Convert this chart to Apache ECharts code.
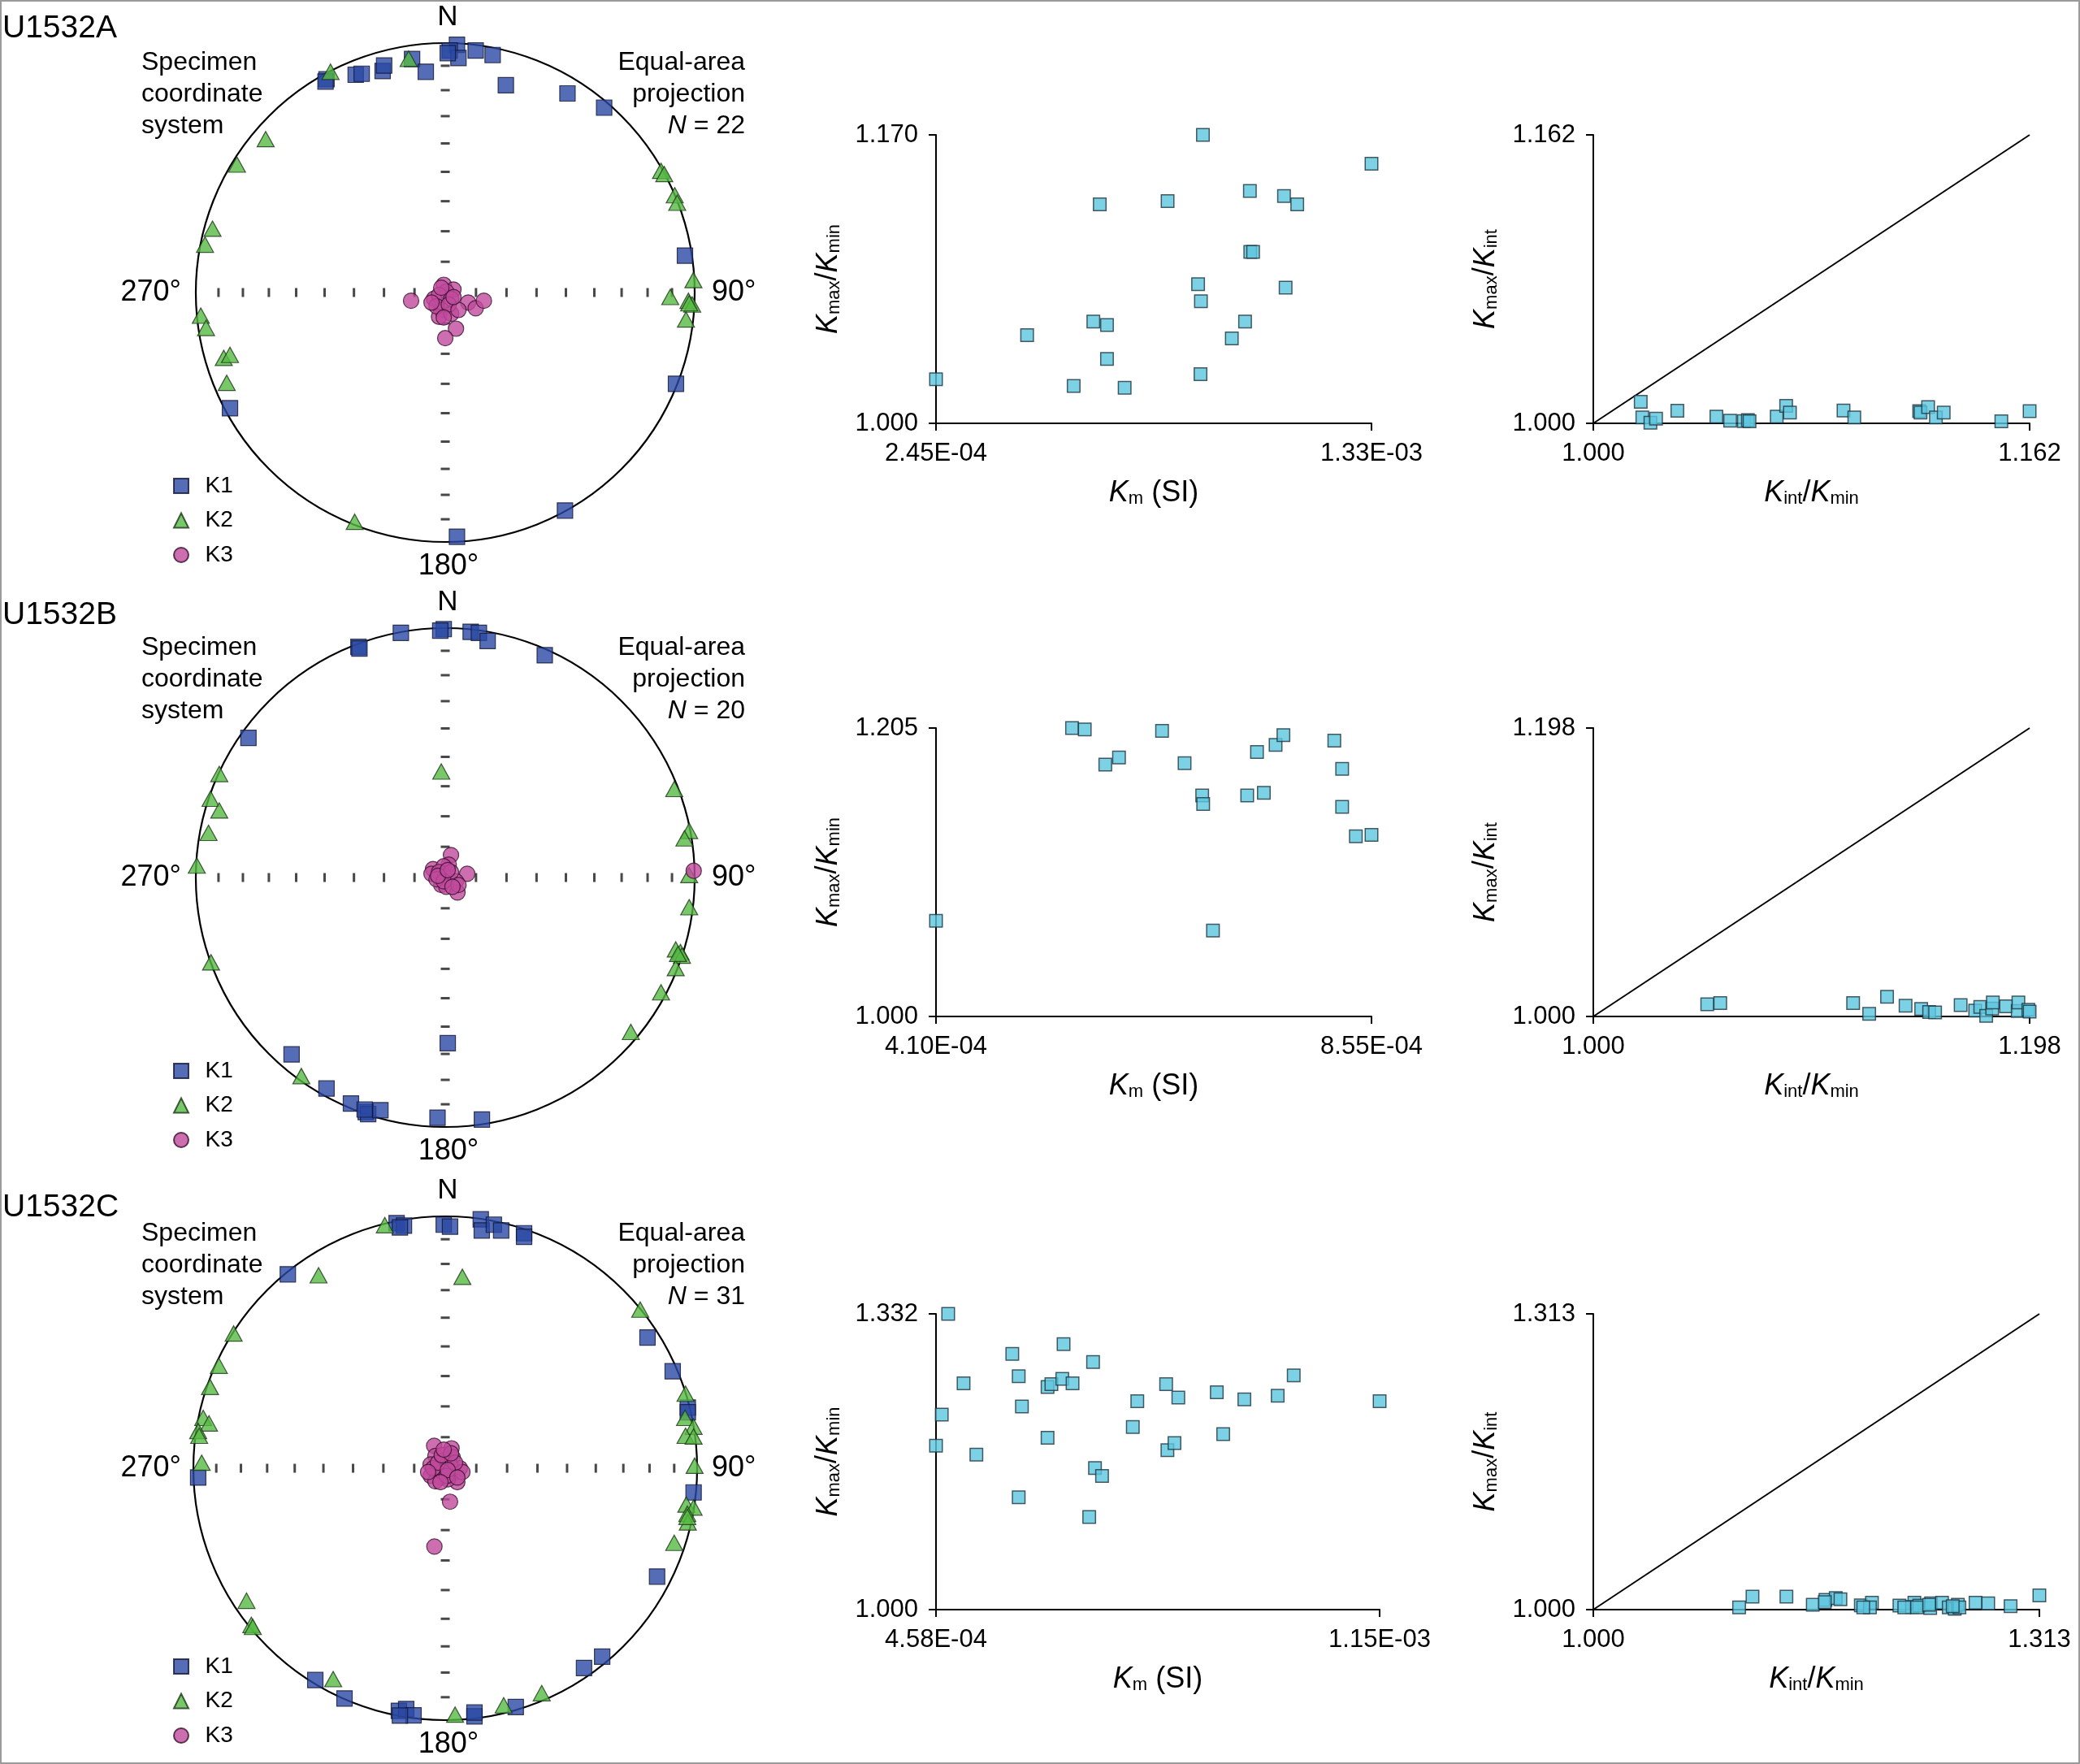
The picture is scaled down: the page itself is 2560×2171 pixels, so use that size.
<!DOCTYPE html>
<html>
<head>
<meta charset="utf-8">
<script src="https://cdn.jsdelivr.net/npm/echarts@6.0.0/dist/echarts.min.js"></script>
<style>
  html, body { margin: 0; padding: 0; background: #fff; }
  #wrap { position: relative; width: 2560px; height: 2171px; }
  #chart { position: absolute; left: 0; top: 0; width: 2560px; height: 2171px; }
  #frame { position: absolute; left: 0; top: 0; width: 2560px; height: 2171px; box-sizing: border-box; border: 2px solid #9a9a9a; pointer-events: none; }
</style>
</head>
<body>
<div id="wrap"><div id="chart"></div><div id="frame"></div></div>
<script>
// ---------- Stereonet data: equal-area projected positions [east, north], unit circle ----------
const k1A = [[0.047,0.993],[0.018,0.970],[0.053,0.940],[0.122,0.970],[0.190,0.952],[0.243,0.831],[0.490,0.798],[0.637,0.741],[0.961,0.148],[0.925,-0.366],[0.480,-0.874],[0.047,-0.979],[-0.863,-0.464],[-0.476,0.855],[-0.359,0.873],[-0.335,0.877],[-0.251,0.888],[-0.245,0.910],[-0.133,0.936],[-0.078,0.885],[0.010,0.960],[-0.480,0.846]];
const k2A = [[-0.147,0.937],[-0.460,0.885],[-0.720,0.615],[-0.835,0.513],[-0.933,0.256],[-0.963,0.192],[-0.980,-0.093],[-0.959,-0.142],[-0.888,-0.262],[-0.863,-0.250],[-0.876,-0.362],[-0.363,-0.919],[0.865,0.488],[0.878,0.475],[0.920,0.390],[0.930,0.360],[0.995,0.050],[0.902,-0.018],[0.975,-0.033],[0.990,-0.048],[0.965,-0.108],[0.978,-0.043]];
const k3A = [[-0.006,0.031],[0.033,0.012],[0.004,0.004],[-0.137,-0.033],[-0.045,-0.025],[-0.025,-0.010],[0.024,-0.025],[0.092,-0.040],[0.122,-0.063],[0.155,-0.033],[-0.016,-0.070],[-0.025,-0.097],[0.024,-0.085],[0.043,-0.145],[0.000,-0.183],[-0.035,-0.055],[0.014,-0.048],[0.053,-0.070],[-0.055,-0.040],[-0.006,-0.100],[0.033,-0.018],[-0.016,0.019]];

const k1B = [[-0.006,0.996],[-0.178,0.981],[0.102,0.985],[0.135,0.981],[0.170,0.948],[0.399,0.891],[-0.348,0.925],[-0.344,0.918],[-0.789,0.560],[0.010,-0.664],[-0.616,-0.709],[-0.476,-0.846],[-0.378,-0.906],[-0.319,-0.940],[-0.309,-0.948],[-0.260,-0.933],[-0.031,-0.963],[0.147,-0.970],[-0.323,-0.930],[-0.020,0.990]];
const k2B = [[-0.016,0.425],[-0.906,0.415],[-0.941,0.316],[-0.906,0.269],[-0.949,0.179],[-0.996,0.048],[-0.939,-0.340],[-0.577,-0.796],[0.918,0.355],[0.978,0.187],[0.959,0.157],[0.978,0.010],[0.978,-0.119],[0.924,-0.288],[0.943,-0.299],[0.949,-0.313],[0.924,-0.363],[0.865,-0.460],[0.744,-0.619],[0.933,-0.306]];
const k3B = [[0.023,0.090],[0.014,0.052],[-0.049,0.034],[-0.006,0.045],[-0.055,0.015],[-0.025,0.022],[0.088,0.015],[-0.002,0.004],[0.043,-0.015],[-0.016,-0.030],[0.004,-0.037],[0.049,-0.060],[0.996,0.027],[-0.035,-0.007],[0.023,0.022],[0.053,-0.030],[-0.006,-0.015],[0.029,-0.037],[-0.029,0.007],[0.010,0.030]];

const k1C = [[-0.193,0.973],[-0.164,0.963],[-0.180,0.956],[-0.006,0.967],[0.019,0.959],[0.141,0.988],[0.145,0.944],[0.193,0.967],[0.222,0.944],[0.313,0.933],[0.313,0.919],[-0.652,0.763],[-0.625,0.770],[0.803,0.519],[0.903,0.385],[0.963,0.241],[0.963,0.222],[-0.981,-0.037],[0.986,-0.096],[0.841,-0.430],[0.623,-0.748],[0.551,-0.793],[0.280,-0.948],[0.116,-0.985],[-0.516,-0.841],[-0.400,-0.914],[-0.184,-0.963],[-0.155,-0.956],[-0.126,-0.981],[-0.180,-0.982],[0.116,-0.970]];
const k2C = [[-0.240,0.965],[-0.503,0.766],[0.068,0.760],[-0.840,0.535],[-0.899,0.407],[-0.934,0.323],[-0.961,0.200],[-0.938,0.178],[-0.981,0.148],[-0.977,0.129],[-0.967,0.022],[-0.789,-0.526],[-0.770,-0.622],[-0.764,-0.630],[-0.445,-0.837],[0.039,-0.978],[0.232,-0.941],[0.383,-0.893],[0.774,0.630],[0.954,0.296],[0.952,0.200],[0.986,0.165],[0.954,0.129],[0.986,0.126],[0.990,0.010],[0.957,-0.144],[0.986,-0.156],[0.961,-0.181],[0.963,-0.215],[0.909,-0.296],[0.961,-0.193]];
const k3C = [[-0.044,0.089],[0.025,0.079],[-0.039,0.049],[0.029,0.044],[-0.010,0.030],[-0.058,0.015],[0.058,0.000],[0.000,0.007],[-0.033,-0.007],[0.029,-0.022],[-0.058,-0.030],[-0.019,-0.037],[0.048,-0.055],[0.010,-0.044],[-0.039,-0.052],[0.019,0.015],[-0.010,-0.015],[-0.048,0.000],[0.068,-0.015],[0.039,0.022],[-0.029,0.022],[0.006,-0.030],[0.019,-0.133],[-0.043,-0.311],[-0.014,0.052],[0.010,-0.007],[-0.068,-0.015],[0.048,-0.037],[-0.019,-0.055],[0.023,0.059],[-0.006,0.074]];

// Inclination ticks along the N-S and E-W diameters (degrees)
const tickInclinations = [10, 20, 30, 40, 50, 60, 70, 80];
const tickAzimuths = [0, 90, 180, 270];

// ---------- Km vs Kmax/Kmin ----------
const kmA = [2.45e-4,4.72e-4,5.88e-4,6.37e-4,6.71e-4,6.71e-4,6.53e-4,7.15e-4,8.22e-4,9.10e-4,8.98e-4,9.05e-4,9.04e-4,9.82e-4,1.015e-3,1.027e-3,1.028e-3,1.035e-3,1.112e-3,1.145e-3,1.116e-3,1.33e-3];
const kmaxKminA = [1.026,1.052,1.022,1.060,1.058,1.038,1.129,1.021,1.131,1.170,1.082,1.072,1.029,1.050,1.060,1.137,1.101,1.101,1.134,1.129,1.080,1.153];
const kmB = [4.10e-4,5.49e-4,5.62e-4,5.83e-4,5.97e-4,6.41e-4,6.64e-4,6.82e-4,6.83e-4,6.93e-4,7.28e-4,7.45e-4,7.38e-4,7.57e-4,7.65e-4,8.17e-4,8.25e-4,8.25e-4,8.39e-4,8.55e-4];
const kmaxKminB = [1.068,1.205,1.204,1.179,1.184,1.203,1.180,1.157,1.151,1.061,1.157,1.159,1.188,1.193,1.200,1.196,1.176,1.149,1.128,1.129];
const kmC = [4.77e-4,4.67e-4,4.58e-4,5.01e-4,5.21e-4,5.77e-4,5.87e-4,5.92e-4,5.87e-4,6.32e-4,6.38e-4,6.32e-4,6.55e-4,6.57e-4,6.71e-4,7.03e-4,7.06e-4,7.17e-4,6.97e-4,7.65e-4,7.72e-4,8.17e-4,8.36e-4,8.19e-4,8.30e-4,8.96e-4,9.06e-4,9.39e-4,9.91e-4,1.016e-3,1.15e-3];
const kmaxKminC = [1.332,1.219,1.184,1.254,1.174,1.287,1.262,1.228,1.126,1.250,1.253,1.193,1.259,1.298,1.254,1.278,1.159,1.150,1.104,1.205,1.234,1.253,1.238,1.179,1.187,1.244,1.197,1.236,1.240,1.263,1.234];

// ---------- Kint/Kmin vs Kmax/Kint ----------
const kintKminA = [1.0176,1.0182,1.0212,1.0233,1.0312,1.0457,1.0508,1.0559,1.0574,1.0681,1.0716,1.0730,1.0929,1.0969,1.1210,1.1215,1.1243,1.1272,1.1301,1.1515,1.1620,1.0580];
const kmaxKintA = [1.0121,1.0033,1.0003,1.0026,1.0071,1.0038,1.0015,1.0012,1.0018,1.0038,1.0098,1.0060,1.0072,1.0033,1.0068,1.0060,1.0091,1.0033,1.0060,1.0011,1.0068,1.0011];
const kintKminB = [1.0517,1.0576,1.1179,1.1252,1.1333,1.1417,1.1488,1.1524,1.1551,1.1667,1.1733,1.1756,1.1783,1.1810,1.1813,1.1873,1.1926,1.1929,1.1974,1.1980];
const kmaxKintB = [1.0083,1.0092,1.0092,1.0018,1.0135,1.0074,1.0052,1.0031,1.0028,1.0078,1.0041,1.0065,1.0004,1.0055,1.0096,1.0070,1.0037,1.0096,1.0046,1.0033];
const kintKminC = [1.1023,1.1117,1.1355,1.1540,1.1629,1.1701,1.1734,1.1877,1.1955,1.1941,1.2148,1.2253,1.2237,1.2287,1.2364,1.2370,1.2447,1.2494,1.2536,1.2558,1.2569,1.2682,1.2771,1.2928,1.3130,1.2271,1.2356,1.2522,1.2182,1.1624,1.1894];
const kmaxKintC = [1.0023,1.0137,1.0137,1.0051,1.0103,1.0123,1.0109,1.0046,1.0074,1.0023,1.0043,1.0074,1.0029,1.0043,1.0017,1.0066,1.0074,1.0023,1.0009,1.0051,1.0023,1.0074,1.0066,1.0037,1.0151,1.0023,1.0051,1.0037,1.0023,1.0080,1.0023];

// ---------- Axis tick values ----------
const kmTicks = [[2.45e-4, 1.33e-3], [4.10e-4, 8.55e-4], [4.58e-4, 1.15e-3]];
const kmaxKminTicks = [[1.000, 1.170], [1.000, 1.205], [1.000, 1.332]];
const ratioTicks = [[1.000, 1.162], [1.000, 1.198], [1.000, 1.313]];

const holeNames = ['U1532A', 'U1532B', 'U1532C'];
const holeN = [22, 20, 31];

// ---------- Layout ----------
const FONT = "'Liberation Sans', Arial, Helvetica, sans-serif";
const C_K1 = '#2a49a4', C_K2 = '#56ba44', C_K3 = '#c04a9c', C_SQ = '#5cc6de';
const nets = [
  { cy: 360,  r: 307, textY: 77,   idY: 35,   legendTop: 579 },
  { cy: 1080, r: 307, textY: 797,  idY: 757,  legendTop: 1299 },
  { cy: 1807, r: 310, textY: 1518, idY: 1486, legendTop: 2032 }
];
const CX = 548;
const midGrids = [
  { left: 1152, top: 166, width: 536, height: 355 },
  { left: 1152, top: 896, width: 536, height: 355 },
  { left: 1152, top: 1617, width: 546, height: 364 }
];
const rightGrids = [
  { left: 1961, top: 166, width: 537, height: 355 },
  { left: 1961, top: 896, width: 537, height: 355 },
  { left: 1961, top: 1617, width: 549, height: 364 }
];

const netK1 = [k1A, k1B, k1C], netK2 = [k2A, k2B, k2C], netK3 = [k3A, k3B, k3C];
const kmAll = [kmA, kmB, kmC], kmaxKminAll = [kmaxKminA, kmaxKminB, kmaxKminC];
const kintKminAll = [kintKminA, kintKminB, kintKminC], kmaxKintAll = [kmaxKintA, kmaxKintB, kmaxKintC];

function toPolar(p) {
  const r = Math.hypot(p[0], p[1]);
  const a = (Math.atan2(p[0], p[1]) * 180 / Math.PI + 360) % 360;
  return [r, a];
}
function eqAreaRadius(inc) { return Math.SQRT2 * Math.sin((90 - inc) / 2 * Math.PI / 180); }
function sci(v) {
  const e = Math.floor(Math.log10(v) + 1e-9);
  const m = v / Math.pow(10, e);
  return m.toFixed(2) + 'E' + (e < 0 ? '-' : '+') + String(Math.abs(e)).padStart(2, '0');
}
const zip = (a, b) => a.map((v, i) => [v, b[i]]);

const rich = {
  k: { fontStyle: 'italic', fontSize: 36, lineHeight: 36, padding: [0, 0, 11, 0], verticalAlign: 'top', fontFamily: FONT, color: '#000' },
  n: { fontSize: 36, lineHeight: 36, padding: [0, 0, 11, 0], verticalAlign: 'top', fontFamily: FONT, color: '#000' },
  s: { fontSize: 22, lineHeight: 22, verticalAlign: 'bottom', fontFamily: FONT, color: '#000' }
};

const polar = [], angleAxis = [], radiusAxis = [], grid = [], xAxis = [], yAxis = [], series = [], legend = [], graphic = [];

nets.forEach((net, i) => {
  polar.push({ center: [CX, net.cy], radius: net.r });
  angleAxis.push({ polarIndex: i, type: 'value', min: 0, max: 360, startAngle: 90, clockwise: true,
    axisLine: { lineStyle: { color: '#000', width: 2.2 } }, axisTick: { show: false }, axisLabel: { show: false }, splitLine: { show: false } });
  radiusAxis.push({ polarIndex: i, type: 'value', min: 0, max: 1,
    axisLine: { show: false }, axisTick: { show: false }, axisLabel: { show: false }, splitLine: { show: false } });

  const ticks = [];
  tickAzimuths.forEach(az => tickInclinations.forEach(inc => {
    ticks.push({ value: [eqAreaRadius(inc), az], symbolSize: (az % 180 === 0) ? [11, 3] : [3, 11] });
  }));
  series.push({ type: 'scatter', coordinateSystem: 'polar', polarIndex: i, symbol: 'rect', data: ticks,
    itemStyle: { color: '#1a1a1a' }, silent: true, z: 1, animation: false });
  series.push({ name: 'K1', type: 'scatter', coordinateSystem: 'polar', polarIndex: i, symbol: 'rect', symbolSize: 19,
    data: netK1[i].map(toPolar), itemStyle: { color: C_K1, borderColor: '#121533', borderWidth: 1.2 }, z: 2, animation: false });
  series.push({ name: 'K2', type: 'scatter', coordinateSystem: 'polar', polarIndex: i, symbol: 'triangle', symbolSize: [21, 19],
    data: netK2[i].map(toPolar), itemStyle: { color: C_K2, borderColor: '#1b3516', borderWidth: 1.2 }, z: 3, animation: false });
  series.push({ name: 'K3', type: 'scatter', coordinateSystem: 'polar', polarIndex: i, symbol: 'circle', symbolSize: 19,
    data: netK3[i].map(toPolar), itemStyle: { color: C_K3, borderColor: '#36102c', borderWidth: 1.2 }, z: 4, animation: false });

  legend.push({ orient: 'vertical', left: 208, top: net.legendTop, itemWidth: 18, itemHeight: 18, itemGap: 14.5,
    selectedMode: false, formatter: n => '  ' + n,
    textStyle: { fontSize: 28, color: '#000', fontFamily: FONT },
    data: [{ name: 'K1', icon: 'rect' }, { name: 'K2', icon: 'triangle' }, { name: 'K3', icon: 'circle' }] });

  const t = (text, x, y, align, size, extra) => graphic.push(Object.assign({ type: 'text', x, y, silent: true,
    style: Object.assign({ text, align, verticalAlign: 'middle', font: size + 'px ' + FONT, fill: '#000' }, extra || {}) }));
  t(holeNames[i], 3, net.idY, 'left', 39);
  t('N', CX + 3, net.cy - net.r - 32, 'center', 35);
  t('270°', 223, net.cy, 'right', 36);
  t('90°', 876, net.cy, 'left', 36);
  t('180°', CX + 4, net.cy + net.r + 30, 'center', 36);
  t('Specimen', 174, net.textY, 'left', 32);
  t('coordinate', 174, net.textY + 39, 'left', 32);
  t('system', 174, net.textY + 78, 'left', 32);
  t('Equal-area', 917, net.textY, 'right', 32);
  t('projection', 917, net.textY + 39, 'right', 32);
  t('{i|N} = ' + holeN[i], 917, net.textY + 78, 'right', 32,
    { rich: { i: { fontStyle: 'italic', fontSize: 32, fontFamily: FONT, fill: '#000' } } });
});

function addScatter(g, xt, yt, xs, ys, xName, yName, xFmt, yFmt, diag) {
  const gi = grid.length;
  grid.push(Object.assign({ containLabel: false }, g));
  xAxis.push({ gridIndex: gi, type: 'value', min: xt[0], max: xt[1],
    axisLine: { onZero: false, lineStyle: { color: '#000', width: 2 } },
    axisTick: { customValues: xt, length: 9, lineStyle: { color: '#000', width: 2 } },
    axisLabel: { customValues: xt, formatter: xFmt, fontSize: 31, color: '#000', margin: 22, fontFamily: FONT },
    splitLine: { show: false },
    name: xName, nameLocation: 'middle', nameGap: 68, nameTextStyle: { rich } });
  yAxis.push({ gridIndex: gi, type: 'value', min: yt[0], max: yt[1],
    axisLine: { onZero: false, lineStyle: { color: '#000', width: 2 } },
    axisTick: { customValues: yt, length: 9, lineStyle: { color: '#000', width: 2 } },
    axisLabel: { customValues: yt, formatter: yFmt, fontSize: 31, color: '#000', margin: 22, fontFamily: FONT },
    splitLine: { show: false },
    name: yName, nameLocation: 'middle', nameGap: 89, nameRotate: 90, nameTextStyle: { rich } });
  if (diag) {
    series.push({ type: 'line', xAxisIndex: gi, yAxisIndex: gi, data: [[xt[0], yt[0]], [xt[1], yt[1]]],
      showSymbol: false, symbol: 'none', lineStyle: { color: '#000', width: 2 }, silent: true, z: 1, animation: false });
  }
  series.push({ type: 'scatter', xAxisIndex: gi, yAxisIndex: gi, data: zip(xs, ys), symbol: 'rect', symbolSize: 15.5, clip: false,
    itemStyle: { color: C_SQ, borderColor: '#1f3440', borderWidth: 1.5 }, z: 3, animation: false });
}

const f3 = v => v.toFixed(3);
for (let i = 0; i < 3; i++) {
  addScatter(midGrids[i], kmTicks[i], kmaxKminTicks[i], kmAll[i], kmaxKminAll[i],
    '{k|K}{s|m}{n| (SI)}', '{k|K}{s|max}{n|/}{k|K}{s|min}', sci, f3, false);
  addScatter(rightGrids[i], ratioTicks[i], ratioTicks[i], kintKminAll[i], kmaxKintAll[i],
    '{k|K}{s|int}{n|/}{k|K}{s|min}', '{k|K}{s|max}{n|/}{k|K}{s|int}', f3, f3, true);
}

const chart = echarts.init(document.getElementById('chart'), null, { renderer: 'canvas' });
chart.setOption({
  backgroundColor: '#fff',
  animation: false,
  textStyle: { fontFamily: FONT },
  polar, angleAxis, radiusAxis, grid, xAxis, yAxis, legend, series, graphic
});
</script>
</body>
</html>
